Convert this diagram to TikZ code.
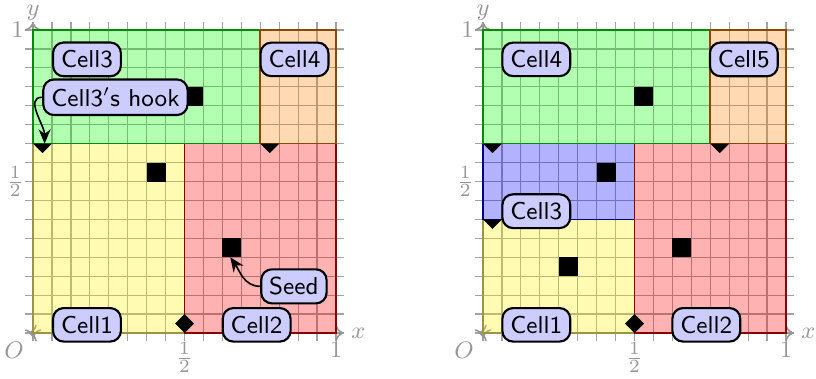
\documentclass[tikz,border=0pt]{standalone}
\usepackage{amsmath}
\usepackage{tikz}
\usetikzlibrary{positioning,arrows.meta,shapes.geometric}
\definecolor{lblfill}{RGB}{204,204,255}
\definecolor{tickgray}{RGB}{150,150,150}
\tikzset{
  cell/.style={draw=#1!55!black, fill=#1, fill opacity=0.3, semithick},
  gridline/.style={draw=gray!72, line width=0.45pt},
  axis/.style={draw=tickgray, semithick, {To[length=1.1mm,width=2.2mm]}-{To[length=1.1mm,width=2.2mm]}},
  tick/.style={text=tickgray, font=\fontsize{9.4}{11}\selectfont, inner sep=1pt},
  lbl/.style={draw=black, thick, rounded corners=4pt, fill=lblfill, font=\fontsize{9.2}{11}\selectfont\sffamily, inner sep=3pt},
  seed/.style={fill=black, minimum size=0.25cm, inner sep=0pt, outer sep=0pt},
  hookarrow/.style={-{Stealth[length=1.9mm,width=1.6mm]}, semithick},
  frame/.pic={
    \foreach \i in {0,...,16} {
      \draw[gridline] (\i/16,-0.025) -- (\i/16,1.025);
      \draw[gridline] (-0.025,\i/16) -- (1.025,\i/16);
    }
    \draw[axis] (-0.015,0) -- (1.025,0);
    \draw[axis] (0,-0.015) -- (0,1.025);
    \node[tick, anchor=west] (xlbl) at (1.04,0) {$x$};
    \node[tick, anchor=south, inner sep=0pt] (ylbl) at (0,1.03) {$y$};
    \node[tick, anchor=north east] (orig) at (-0.02,-0.02) {$O$};
    \node[tick, anchor=north] (xone) at (1,-0.02) {$1$};
    \node[tick, anchor=north] (xhalf) at (0.5,-0.02) {$\frac{1}{2}$};
    \node[tick, anchor=east] (yone) at (-0.02,1) {$1$};
    \node[tick, anchor=east] (yhalf) at (-0.02,0.5) {$\frac{1}{2}$};
  }
}

\begin{document}
\begin{tikzpicture}[x=4cm,y=4cm]
  \useasboundingbox (-0.109,-0.1485) rectangle (2.584,1.099);

  % first partition
  \pic (L) at (0,0) {frame};
  \filldraw[cell=yellow] (0,0) rectangle (0.5,0.625);
  \filldraw[cell=red] (0.5,0) rectangle (1,0.625);
  \filldraw[cell=green] (0,0.625) rectangle (0.75,1);
  \filldraw[cell=orange] (0.75,0.625) rectangle (1,1);
  \node[seed] (Ls1) at (0.40625,0.53125) {};
  \node[seed] (Ls2) at (0.65625,0.28125) {};
  \node[seed] (Ls3) at (0.53125,0.78125) {};
  \coordinate (Lh2) at (0.5,0);
  \coordinate (Lh3) at (0.03125,0.625);
  \coordinate (Lh4) at (0.78125,0.625);
  \fill (Lh2) -- ++(0.03125,0.03125) -- ++(-0.03125,0.03125) -- ++(-0.03125,-0.03125) -- cycle;
  \fill (Lh3) ++(-0.03125,0) -- ++(0.0625,0) -- ++(-0.03125,-0.03125) -- cycle;
  \fill (Lh4) ++(-0.03125,0) -- ++(0.0625,0) -- ++(-0.03125,-0.03125) -- cycle;
  \node[lbl] (Lc1) at (0.178,0.027) {Cell1};
  \node[lbl] (Lc2) at (0.738,0.027) {Cell2};
  \node[lbl] (Lc3) at (0.178,0.903) {Cell3};
  \node[lbl] (Lc4) at (0.863,0.903) {Cell4};
  \node[lbl] (Lhook) at (0.272,0.778) {Cell3$'$s hook};
  \node[lbl] (Lseed) at (0.861,0.154) {Seed};
  \draw[hookarrow] (Lhook.west) to[out=180, in=90] ([xshift=0.8pt]Lh3);
  \draw[hookarrow] (Lseed.west) to[out=180, in=-55] ([xshift=-0.6pt]Ls2.south);

  % second partition
  \begin{scope}[xshift=5.94cm]
    \pic (R) at (0,0) {frame};
    \filldraw[cell=yellow] (0,0) rectangle (0.5,0.375);
    \filldraw[cell=blue] (0,0.375) rectangle (0.5,0.625);
    \filldraw[cell=red] (0.5,0) rectangle (1,0.625);
    \filldraw[cell=green] (0,0.625) rectangle (0.75,1);
    \filldraw[cell=orange] (0.75,0.625) rectangle (1,1);
    \node[seed] (Rs1) at (0.28125,0.21875) {};
    \node[seed] (Rs2) at (0.65625,0.28125) {};
    \node[seed] (Rs3) at (0.40625,0.53125) {};
    \node[seed] (Rs4) at (0.53125,0.78125) {};
    \coordinate (Rh2) at (0.5,0);
    \coordinate (Rh3) at (0.03125,0.375);
    \coordinate (Rh4) at (0.03125,0.625);
    \coordinate (Rh5) at (0.78125,0.625);
    \fill (Rh2) -- ++(0.03125,0.03125) -- ++(-0.03125,0.03125) -- ++(-0.03125,-0.03125) -- cycle;
    \fill (Rh3) ++(-0.03125,0) -- ++(0.0625,0) -- ++(-0.03125,-0.03125) -- cycle;
    \fill (Rh4) ++(-0.03125,0) -- ++(0.0625,0) -- ++(-0.03125,-0.03125) -- cycle;
    \fill (Rh5) ++(-0.03125,0) -- ++(0.0625,0) -- ++(-0.03125,-0.03125) -- cycle;
    \node[lbl] (Rc1) at (0.176,0.027) {Cell1};
    \node[lbl] (Rc2) at (0.737,0.027) {Cell2};
    \node[lbl] (Rc3) at (0.176,0.402) {Cell3};
    \node[lbl] (Rc4) at (0.176,0.903) {Cell4};
    \node[lbl] (Rc5) at (0.861,0.903) {Cell5};
  \end{scope}
\end{tikzpicture}
\end{document}
